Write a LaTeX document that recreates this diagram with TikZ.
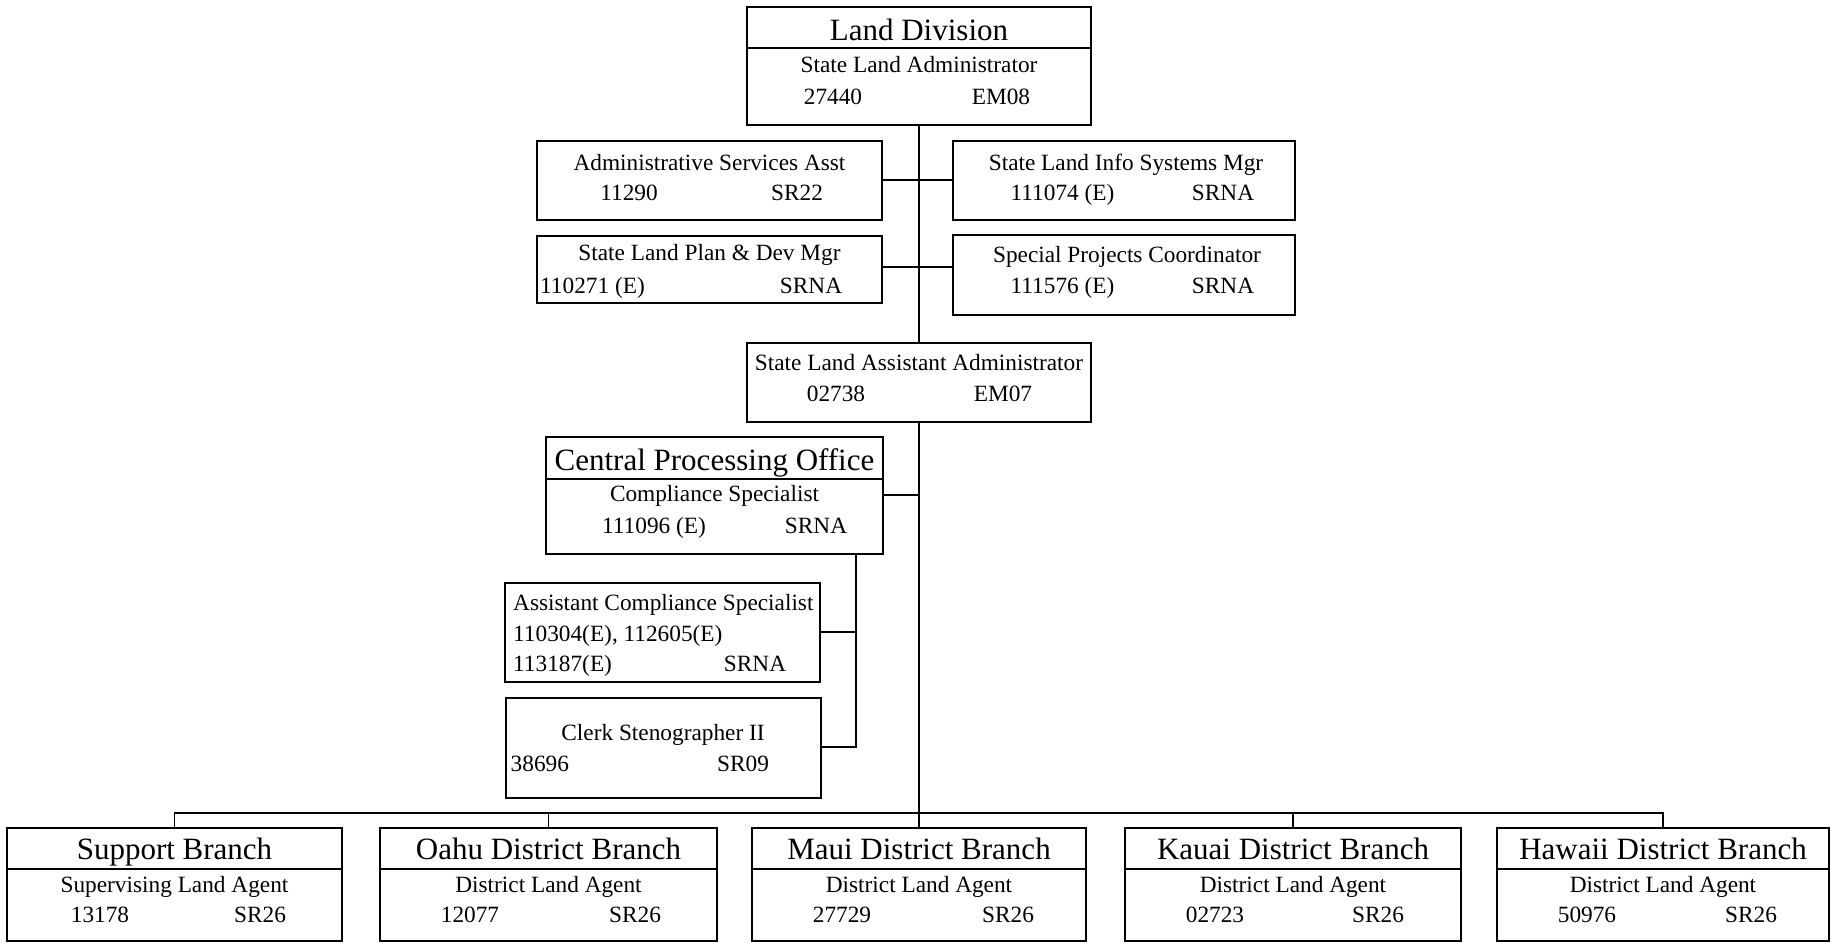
\documentclass[tikz,border=0pt]{standalone}
\usepackage{fontspec}
\setmainfont{Liberation Serif}
\begin{document}
\begin{tikzpicture}[x=1pt,y=-1pt,
  box/.style={draw, line width=1.4pt, rectangle, inner sep=0pt, outer sep=0pt, anchor=north west},
  ttl/.style={inner sep=0pt, anchor=base, font=\fontsize{31}{31}\selectfont},
  txt/.style={inner sep=0pt, anchor=base, font=\fontsize{23.3}{23.3}\selectfont},
  txtl/.style={txt, anchor=base west},
  ln/.style={line width=1.4pt}]
\useasboundingbox (0,0) rectangle (1835,942);
\fill[white] (0,0) rectangle (1835,942);

% ---------- Land Division ----------
\node[box, minimum width=344pt, minimum height=118pt] (ld) at (747,7) {};
\draw[ln] (ld.west |- 0,48) -- (ld.east |- 0,48);
\node[ttl] (ldT) at (919,41) {Land Division};
\node[txt] (ldA) at (919,72.5) {State Land Administrator};
\node[txt] (ldN) at (833,104) {27440};
\node[txt] (ldC) at (1001,104) {EM08};

% ---------- staff boxes ----------
\node[box, minimum width=345pt, minimum height=79pt] (adm) at (537,141) {};
\node[txt] (admT) at (709.5,170) {Administrative Services Asst};
\node[txt] (admN) at (629,200) {11290};
\node[txt] (admC) at (797,200) {SR22};

\node[box, minimum width=342pt, minimum height=79pt] (info) at (953,141) {};
\node[txt] (infoT) at (1126,170) {State Land Info Systems Mgr};
\node[txt] (infoN) at (1062.5,200) {111074 (E)};
\node[txt] (infoC) at (1223,200) {SRNA};

\node[box, minimum width=345pt, minimum height=67pt] (plan) at (537,236) {};
\node[txt] (planT) at (709.5,260) {State Land Plan \& Dev Mgr};
\node[txtl] (planN) at (540,293) {110271 (E)};
\node[txt] (planC) at (811,293) {SRNA};

\node[box, minimum width=342pt, minimum height=80pt] (spec) at (953,235) {};
\node[txt] (specT) at (1127,262) {Special Projects Coordinator};
\node[txt] (specN) at (1062.5,293) {111576 (E)};
\node[txt] (specC) at (1223,293) {SRNA};

% ---------- State Land Assistant Administrator ----------
\node[box, minimum width=344pt, minimum height=79pt] (slaa) at (747,343) {};
\node[txt] (slaaT) at (919,370) {State Land Assistant Administrator};
\node[txt] (slaaN) at (836,401.5) {02738};
\node[txt] (slaaC) at (1003,401.5) {EM07};

% ---------- Central Processing Office ----------
\node[box, minimum width=337pt, minimum height=117pt] (cpo) at (546,437) {};
\draw[ln] (cpo.west |- 0,479) -- (cpo.east |- 0,479);
\node[ttl] (cpoT) at (714.5,470) {Central Processing Office};
\node[txt] (cpoA) at (714.5,501.5) {Compliance Specialist};
\node[txt] (cpoN) at (654,533) {111096 (E)};
\node[txt] (cpoC) at (816,533) {SRNA};

\node[box, minimum width=315pt, minimum height=99pt] (acs) at (505,583) {};
\node[txtl] (acsT) at (513,610) {Assistant Compliance Specialist};
\node[txtl] (acsN1) at (513,641.5) {110304(E), 112605(E)};
\node[txtl] (acsN2) at (513,671.5) {113187(E)};
\node[txt] (acsC) at (755,671.5) {SRNA};

\node[box, minimum width=315pt, minimum height=100pt] (clerk) at (506,698) {};
\node[txt] (clerkT) at (663,740) {Clerk Stenographer II};
\node[txtl] (clerkN) at (510.5,771.5) {38696};
\node[txt] (clerkC) at (743,771.5) {SR09};

% ---------- branches ----------
\node[box, minimum width=335pt, minimum height=113pt] (sup) at (7,828) {};
\node[ttl] (supT) at (sup.north |- 0,859) {Support Branch};
\node[txt] (supA) at (sup.north |- 0,892.5) {Supervising Land Agent};
\node[txt] (supN) at (100,922) {13178};
\node[txt] (supC) at (260,922) {SR26};

\node[box, minimum width=337pt, minimum height=113pt] (oahu) at (380,828) {};
\node[ttl] (oahuT) at (oahu.north |- 0,859) {Oahu District Branch};
\node[txt] (oahuA) at (oahu.north |- 0,892.5) {District Land Agent};
\node[txt] (oahuN) at (470,922) {12077};
\node[txt] (oahuC) at (635,922) {SR26};

\node[box, minimum width=334pt, minimum height=113pt] (maui) at (752,828) {};
\node[ttl] (mauiT) at (maui.north |- 0,859) {Maui District Branch};
\node[txt] (mauiA) at (maui.north |- 0,892.5) {District Land Agent};
\node[txt] (mauiN) at (842,922) {27729};
\node[txt] (mauiC) at (1008,922) {SR26};

\node[box, minimum width=336pt, minimum height=113pt] (kauai) at (1125,828) {};
\node[ttl] (kauaiT) at (kauai.north |- 0,859) {Kauai District Branch};
\node[txt] (kauaiA) at (kauai.north |- 0,892.5) {District Land Agent};
\node[txt] (kauaiN) at (1215,922) {02723};
\node[txt] (kauaiC) at (1378,922) {SR26};

\node[box, minimum width=332pt, minimum height=113pt] (haw) at (1497,828) {};
\node[ttl] (hawT) at (haw.north |- 0,859) {Hawaii District Branch};
\node[txt] (hawA) at (haw.north |- 0,892.5) {District Land Agent};
\node[txt] (hawN) at (1587,922) {50976};
\node[txt] (hawC) at (1751,922) {SR26};

\foreach \b in {sup,oahu,maui,kauai,haw}
  \draw[ln] (\b.west |- 0,869) -- (\b.east |- 0,869);

% ---------- connectors ----------
\draw[ln] (ld.south) -- (slaa.north);
\draw[ln] (slaa.south) -- (maui.north);
\draw[ln] (adm.east |- 0,180) -- (info.west |- 0,180);
\draw[ln] (plan.east |- 0,267) -- (spec.west |- 0,267);
\draw[ln] (cpo.east |- 0,495) -- (slaa.south |- 0,495);

\coordinate (subtop) at (cpo.south -| 856,0);
\coordinate (subA) at (856,632);
\coordinate (subC) at (856,747);
\draw[ln] (subtop) -- (subC) -- (clerk.east |- subC);
\draw[ln] (acs.east |- subA) -- (subA);

\coordinate (bus) at (0,813);
\draw[ln] (sup.north) -- (sup.north |- bus) -- (haw.north |- bus) -- (haw.north);
\draw[ln] (oahu.north) -- (oahu.north |- bus);
\draw[ln] (kauai.north) -- (kauai.north |- bus);
\end{tikzpicture}
\end{document}
